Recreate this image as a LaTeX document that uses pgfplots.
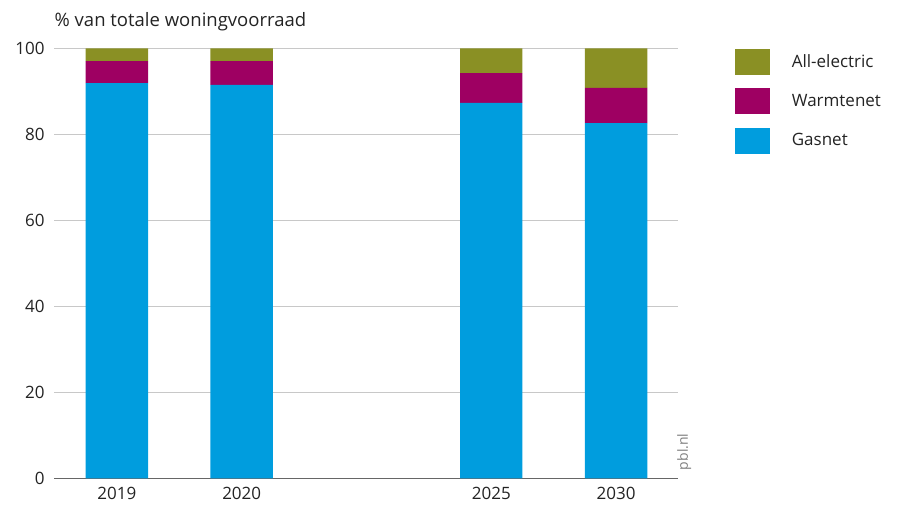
\documentclass[border=0pt]{standalone}
\usepackage{pgfplots}
\pgfplotsset{compat=1.18}
\usepackage{fontspec}
\setmainfont{Open Sans}
\definecolor{cgas}{RGB}{0,157,222}
\definecolor{cwarm}{RGB}{158,0,98}
\definecolor{celec}{RGB}{138,144,36}
\definecolor{ctext}{RGB}{35,35,35}
\definecolor{cgrid}{RGB}{200,200,200}
\begin{document}
\fontsize{17}{20}\selectfont
\begin{tikzpicture}
\begin{axis}[
  at={(0,0)}, anchor=south west,
  scale only axis, width=624pt, height=430pt,
  ybar stacked, bar width=0.5,
  xmin=-0.5, xmax=4.5, ymin=0, ymax=100,
  xtick={0,1,3,4}, xticklabels={2019,2020,2025,2030},
  ytick={0,20,40,60,80,100},
  ymajorgrids, grid style={cgrid, line width=1pt},
  axis lines=left,
  x axis line style={draw=gray!80!black, line width=1pt, -},
  y axis line style={draw=none},
  major tick length=0pt,
  tick style={draw=none},
  /pgf/number format/assume math mode=true,
  ticklabel style={font=\fontsize{17}{20}\selectfont, text=ctext},
  yticklabel style={xshift=-4pt},
  xticklabel style={yshift=-3pt},
  enlarge x limits=false,
  legend cell align=left,
  reverse legend,
  legend style={at={(rel axis cs:1.09,0.999)}, anchor=north west, draw=none, fill=none,
    font=\fontsize{17}{20}\selectfont, text=ctext, row sep=13.5pt, inner sep=0pt},
  legend image code/.code={\fill[#1] (0pt,-13pt) rectangle (35pt,13pt); \path (55pt,0pt);},
  clip=false,
]
\addplot[fill=cgas, draw=none] coordinates {(0,91.9) (1,91.5) (3,87.3) (4,82.6)};
\addlegendentry{Gasnet}
\addplot[fill=cwarm, draw=none] coordinates {(0,5.1) (1,5.5) (3,6.9) (4,8.2)};
\addlegendentry{Warmtenet}
\addplot[fill=celec, draw=none] coordinates {(0,3.0) (1,3.0) (3,5.8) (4,9.2)};
\addlegendentry{All-electric}
\node[anchor=base west, text=ctext, font=\fontsize{18.5}{22}\selectfont, inner sep=0pt] at ([yshift=21.6pt]rel axis cs:0,1) {\% van totale woningvoorraad};
\node[rotate=90, anchor=south west, text=gray, font=\fontsize{14}{16}\selectfont, inner sep=0pt] at ([xshift=13pt,yshift=8pt]rel axis cs:1,0) {pbl.nl};
\end{axis}
\path (-54.5pt,-32.7pt) rectangle (842.5pt,478.3pt);
\end{tikzpicture}
\end{document}
